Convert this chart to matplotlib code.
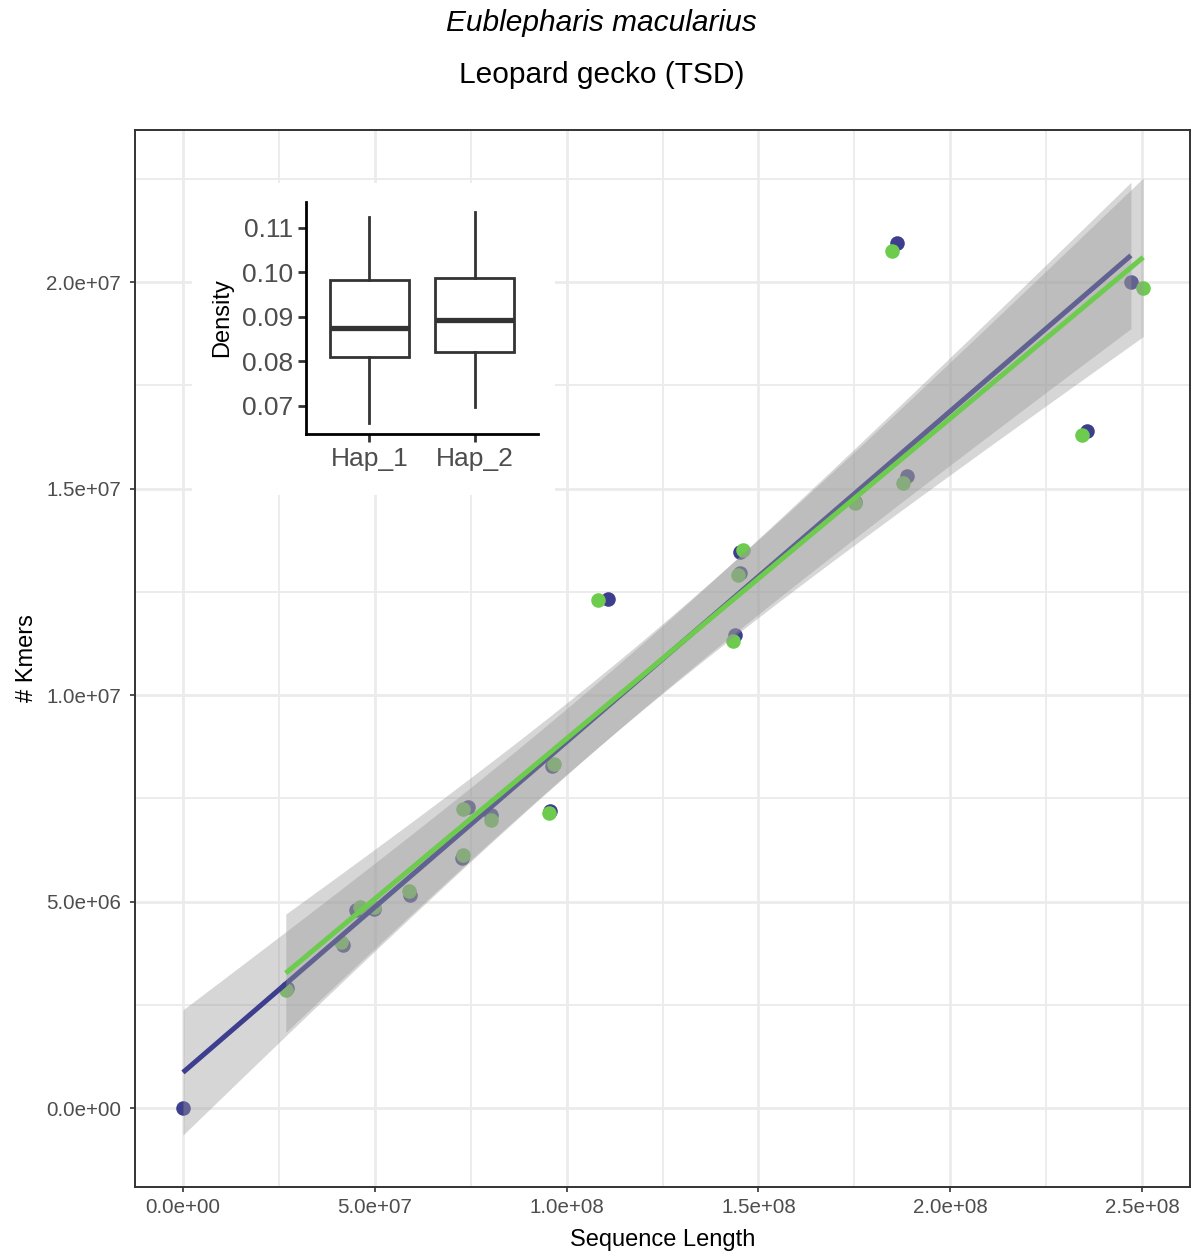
import math
import numpy as np
import matplotlib
matplotlib.use("Agg")
import matplotlib.pyplot as plt
from matplotlib.ticker import FixedLocator

plt.rcParams['font.family'] = ['Liberation Sans', 'DejaVu Sans']

# ---- data: sequence length vs k-mer count per sequence ----
hap1_len = [0.0, 27.0, 41.7, 45.1, 49.9, 59.1, 72.7, 74.2, 80.2, 95.8,
            96.1, 110.9, 144.0, 145.3, 145.3, 175.3, 186.2, 188.8, 235.7, 247.1]
hap1_kmers = [0.0, 2.90, 3.95, 4.79, 4.82, 5.16, 6.05, 7.29, 7.09, 7.19,
              8.28, 12.32, 11.45, 12.95, 13.46, 14.67, 20.94, 15.30, 16.39, 20.00]
hap2_len = [26.8, 41.1, 46.1, 49.7, 58.9, 72.9, 72.9, 80.2, 95.3, 96.6,
            108.1, 143.5, 144.8, 146.1, 175.3, 184.9, 187.8, 234.4, 250.3]
hap2_kmers = [2.86, 4.02, 4.87, 4.87, 5.25, 6.13, 7.24, 6.97, 7.14, 8.33,
              12.30, 11.31, 12.91, 13.51, 14.65, 20.75, 15.13, 16.30, 19.85]
scale = 1e6

# ---- density summary per haplotype (box statistics) ----
box_labels = ["Hap_1", "Hap_2"]
box_whislo = [0.0662, 0.0698]
box_q1 = [0.0811, 0.0822]
box_med = [0.0875, 0.0893]
box_q3 = [0.0982, 0.0987]
box_whishi = [0.1125, 0.1136]

x_ticks = [0, 5e7, 1e8, 1.5e8, 2e8, 2.5e8]
x_ticklabels = ["0.0e+00", "5.0e+07", "1.0e+08", "1.5e+08", "2.0e+08", "2.5e+08"]
y_ticks = [0, 5e6, 1e7, 1.5e7, 2e7]
y_ticklabels = ["0.0e+00", "5.0e+06", "1.0e+07", "1.5e+07", "2.0e+07"]
inset_ticks = [0.07, 0.08, 0.09, 0.10, 0.11]
inset_ticklabels = ["0.07", "0.08", "0.09", "0.10", "0.11"]

COL_H1 = "#3E3E8E"
COL_H2 = "#6DCB4E"
GRID = "#EBEBEB"
TICKTXT = "#4D4D4D"


def t_quantile(p, df):
    """Student-t quantile by numerically integrating the density."""
    c = math.gamma((df + 1) / 2) / (math.sqrt(df * math.pi) * math.gamma(df / 2))
    grid = np.linspace(0, 12, 200001)
    pdf = c * (1 + grid ** 2 / df) ** (-(df + 1) / 2)
    cdf = 0.5 + np.concatenate([[0], np.cumsum((pdf[1:] + pdf[:-1]) / 2 * np.diff(grid))])
    return float(np.interp(p, cdf, grid))


def lm_band(x, y, n=80, level=0.95):
    x = np.asarray(x, float)
    y = np.asarray(y, float)
    k = len(x)
    b, a = np.polyfit(x, y, 1)
    resid = y - (a + b * x)
    s = math.sqrt(np.sum(resid ** 2) / (k - 2))
    xm = x.mean()
    sxx = np.sum((x - xm) ** 2)
    xs = np.linspace(x.min(), x.max(), n)
    fit = a + b * xs
    se = s * np.sqrt(1 / k + (xs - xm) ** 2 / sxx)
    t = t_quantile(0.5 + level / 2, k - 2)
    return xs, fit, fit - t * se, fit + t * se


W, H = 1193, 1254
fig = plt.figure(figsize=(W / 100, H / 100), dpi=100)
fig.patch.set_facecolor("white")

ax = fig.add_axes([135 / W, 1 - 1187 / H, (1190 - 135) / W, (1187 - 130) / H])
ax.set_xlim(-12.5e6, 262.5e6)
ax.set_ylim(-1.91e6, 23.68e6)

ax.xaxis.set_major_locator(FixedLocator(x_ticks))
ax.xaxis.set_minor_locator(FixedLocator([2.5e7, 7.5e7, 1.25e8, 1.75e8, 2.25e8]))
ax.yaxis.set_major_locator(FixedLocator(y_ticks))
ax.yaxis.set_minor_locator(FixedLocator([2.5e6, 7.5e6, 1.25e7, 1.75e7, 2.25e7]))
ax.set_xticklabels(x_ticklabels)
ax.set_yticklabels(y_ticklabels)
ax.grid(which="major", color=GRID, lw=2.0, zorder=0)
ax.grid(which="minor", color=GRID, lw=1.3, zorder=0)
ax.set_axisbelow(True)
ax.tick_params(which="major", length=3.6, width=1.2, color="#333333",
               labelsize=14.8, labelcolor=TICKTXT, pad=4)
ax.tick_params(axis="y", which="major", pad=6.5)
ax.tick_params(which="minor", length=0)
for sp in ax.spines.values():
    sp.set_color("#333333")
    sp.set_linewidth(1.4)

ax.set_xlabel("Sequence Length", fontsize=17, labelpad=9)
ax.set_ylabel("# Kmers", fontsize=17, labelpad=6)

x1 = np.array(hap1_len) * scale
y1 = np.array(hap1_kmers) * scale
x2 = np.array(hap2_len) * scale
y2 = np.array(hap2_kmers) * scale

ax.scatter(x1, y1, s=110, color=COL_H1, linewidths=0, zorder=2)
ax.scatter(x2, y2, s=110, color=COL_H2, linewidths=0, zorder=2.1)

for i, (xx, yy, col) in enumerate([(x1, y1, COL_H1), (x2, y2, COL_H2)]):
    xs, fit, lo, hi = lm_band(xx, yy)
    ax.fill_between(xs, lo, hi, color="#999999", alpha=0.4, linewidth=0, zorder=3 + 2 * i)
    ax.plot(xs, fit, color=col, lw=3.6, solid_capstyle="butt", zorder=4 + 2 * i)

# titles
fig.text(0.504, 1 - 23 / H, "Eublepharis macularius", ha="center", va="center",
         fontsize=21.5, style="italic")
fig.text(0.504, 1 - 75 / H, "Leopard gecko (TSD)", ha="center", va="center", fontsize=21.5)

# inset background
bg = fig.add_axes([192 / W, 1 - 495 / H, 363 / W, 312 / H])
bg.set_facecolor("white")
bg.set_xticks([])
bg.set_yticks([])
for sp in bg.spines.values():
    sp.set_visible(False)

# inset boxplot
ins = fig.add_axes([306 / W, 1 - 434 / H, 232 / W, 232 / H])
ins.patch.set_alpha(0)
stats = []
for i, lab in enumerate(box_labels):
    stats.append(dict(label=lab, whislo=box_whislo[i], q1=box_q1[i], med=box_med[i],
                      q3=box_q3[i], whishi=box_whishi[i], fliers=[]))
ins.bxp(stats, positions=[1, 2], widths=0.75, showcaps=False, patch_artist=True,
        boxprops=dict(facecolor="white", edgecolor="#333333", linewidth=2.0),
        whiskerprops=dict(color="#333333", linewidth=2.0),
        medianprops=dict(color="#333333", linewidth=3.8, solid_capstyle="butt"))
ins.set_xlim(0.4, 2.6)
ins.set_ylim(0.0637, 0.1158)
ins.set_yticks(inset_ticks)
ins.set_yticklabels(inset_ticklabels)
ins.set_xticks([1, 2])
ins.set_xticklabels(box_labels)
ins.spines["top"].set_visible(False)
ins.spines["right"].set_visible(False)
for side in ("left", "bottom"):
    ins.spines[side].set_color("black")
    ins.spines[side].set_linewidth(2.0)
ins.tick_params(length=5.5, width=2.0, color="#333333", labelsize=19,
                labelcolor=TICKTXT, pad=4)
ins.set_ylabel("Density", fontsize=17, labelpad=6)

fig.savefig("out.png", dpi=100, facecolor="white")
